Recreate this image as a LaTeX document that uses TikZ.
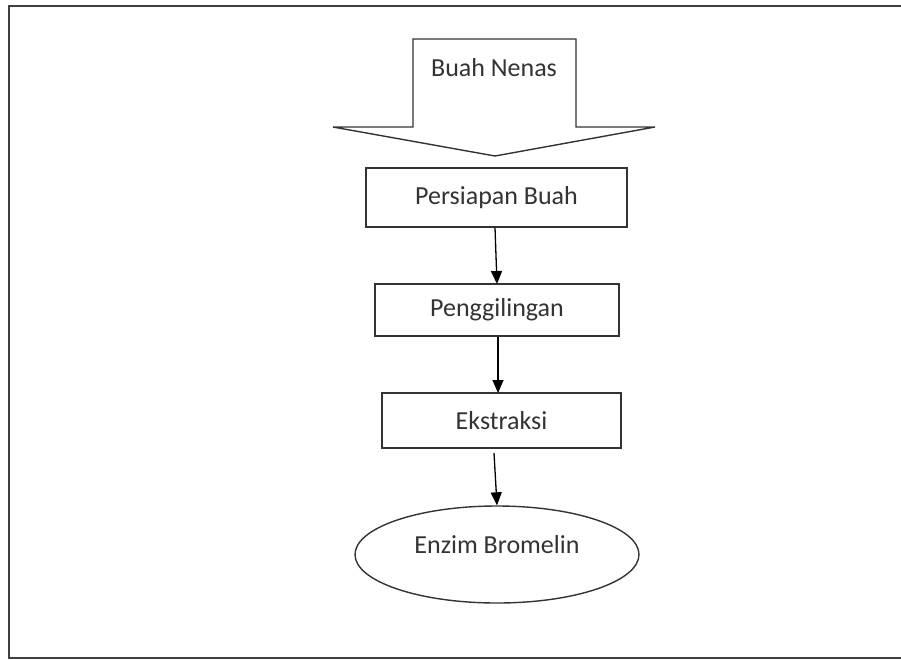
\documentclass[tikz,border=0pt]{standalone}
\usepackage{fontspec}
\setmainfont{Carlito}
\usetikzlibrary{shapes.geometric,arrows.meta}
\begin{document}
\begin{tikzpicture}[x=1pt,y=-1pt,
  shp/.style={draw=black!80,line width=1.4pt},
  txt/.style={font=\fontsize{26}{30}\selectfont,text=black!80},
  procbox/.style={shp,txt,rectangle,minimum width=#1,minimum height=57pt,inner sep=0pt},
  link/.style={draw=black,line width=1.3pt,-{Triangle[length=13pt,width=11pt]}}]
\useasboundingbox (0,0) rectangle (901,659);
\fill[white] (0,0) rectangle (901,659);
% frame
\draw[line width=2pt,black!75] (901,5.5) -- (9,5.5) -- (9,657.5) -- (901,657.5);
% block arrow
\draw[shp,line join=miter] (413,39) -- (576,39) -- (576,127) -- (655,127) -- (495,156) -- (333,127) -- (413,127) -- cycle;
\node[txt] (src) at (494,68) {Buah Nenas};
% boxes
\node[procbox=261pt,minimum height=59pt] (p1) at (496.5,197.5) {Persiapan Buah};
\node[procbox=244pt,minimum height=52pt] (p2) at (497,310) {Penggilingan};
\node[procbox=239pt,minimum height=55pt] (p3) at (501.5,420.5) {Ekstraksi};
\node[shp,ellipse,minimum width=284pt,minimum height=97pt,inner sep=0pt] (e) at (497,554.5) {};
\node[txt] (et) at (497,545) {Enzim Bromelin};
% connectors
\draw[link] (p1.south -| 495,0) -- (497,284);
\draw[link] (p2.south -| 498,0) -- (498,393);
\draw[link] (494,453) -- (e.north);
\end{tikzpicture}
\end{document}
